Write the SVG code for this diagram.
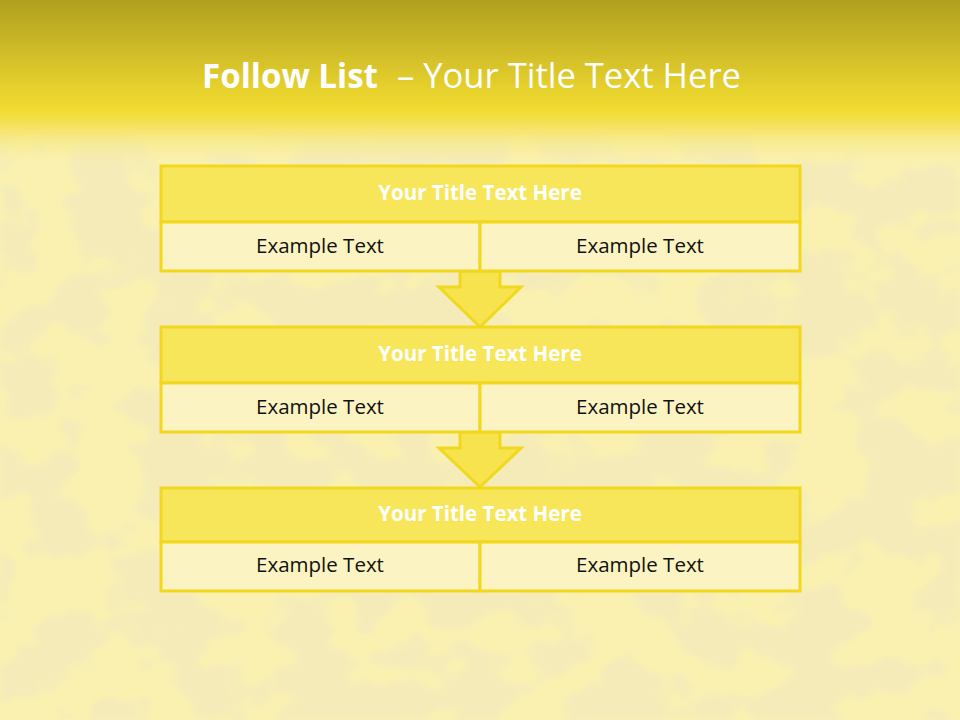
<svg xmlns="http://www.w3.org/2000/svg" width="960" height="720" viewBox="0 0 960 720">
<defs>
<linearGradient id="top" x1="0" y1="0" x2="0" y2="1">
<stop offset="0" stop-color="#b09f1e"/>
<stop offset="0.5" stop-color="#d8c42a"/>
<stop offset="0.85" stop-color="#f2dc30"/>
<stop offset="1" stop-color="#f6e46a"/>
</linearGradient>
<linearGradient id="fade" x1="0" y1="0" x2="0" y2="1">
<stop offset="0" stop-color="#f6e46a"/>
<stop offset="1" stop-color="#faf1b0" stop-opacity="0"/>
</linearGradient>
<filter id="tex" x="0" y="0" width="100%" height="100%">
<feTurbulence type="fractalNoise" baseFrequency="0.014 0.018" numOctaves="3" seed="7" result="n"/>
<feColorMatrix in="n" type="matrix" values="0 0 0 0 0.85  0 0 0 0 0.78  0 0 0 0 0.55  0 0 0 -10 5.6" result="c"/>
<feGaussianBlur in="c" stdDeviation="2"/>
</filter>
<style>
.bd{stroke:#f1d81e;stroke-width:3}
.hd{fill:#f7e65a}
.rw{fill:#fbf4c2}
.ht{font-family:"Open Sans","Liberation Sans",sans-serif;font-weight:bold;font-size:20.5px;fill:#ffffff;text-anchor:middle}
.et{font-family:"Open Sans","Liberation Sans",sans-serif;font-size:20.5px;fill:#111111;text-anchor:middle}
.ar{fill:#f6e34e;stroke:#f1d81e;stroke-width:3;stroke-linejoin:miter}
</style>
</defs>
<rect x="0" y="0" width="960" height="720" fill="#faf1b0"/>
<rect x="0" y="130" width="960" height="590" filter="url(#tex)" opacity="0.45"/>
<rect x="0" y="0" width="960" height="130" fill="url(#top)"/>
<rect x="0" y="129" width="960" height="40" fill="url(#fade)"/>
<g id="title" font-family="'Open Sans','Liberation Sans',sans-serif" font-size="34" fill="#ffffff">
<text x="202" y="88" font-weight="bold" textLength="176" lengthAdjust="spacingAndGlyphs">Follow List</text>
<text x="397" y="88" textLength="344" lengthAdjust="spacingAndGlyphs">– Your Title Text Here</text>
</g>
<g id="connectors">
<polygon class="ar" points="460,271 500,271 500,287 521,287 480,327 439,287 460,287"/>
<polygon class="ar" points="460,432 500,432 500,448 521,448 480,487 439,448 460,448"/>
</g>
<g id="node1">
<rect class="bd hd" x="161" y="166" width="639" height="56"/>
<rect class="bd rw" x="161" y="222" width="319" height="49"/>
<rect class="bd rw" x="480" y="222" width="320" height="49"/>
<text class="ht" x="480" y="200">Your Title Text Here</text>
<text class="et" x="320" y="253">Example Text</text>
<text class="et" x="640" y="253">Example Text</text>
</g>
<g id="node2">
<rect class="bd hd" x="161" y="327" width="639" height="56"/>
<rect class="bd rw" x="161" y="383" width="319" height="49"/>
<rect class="bd rw" x="480" y="383" width="320" height="49"/>
<text class="ht" x="480" y="361">Your Title Text Here</text>
<text class="et" x="320" y="414">Example Text</text>
<text class="et" x="640" y="414">Example Text</text>
</g>
<g id="node3">
<rect class="bd hd" x="161" y="488" width="639" height="54"/>
<rect class="bd rw" x="161" y="542" width="319" height="49"/>
<rect class="bd rw" x="480" y="542" width="320" height="49"/>
<text class="ht" x="480" y="521">Your Title Text Here</text>
<text class="et" x="320" y="572">Example Text</text>
<text class="et" x="640" y="572">Example Text</text>
</g>
</svg>
